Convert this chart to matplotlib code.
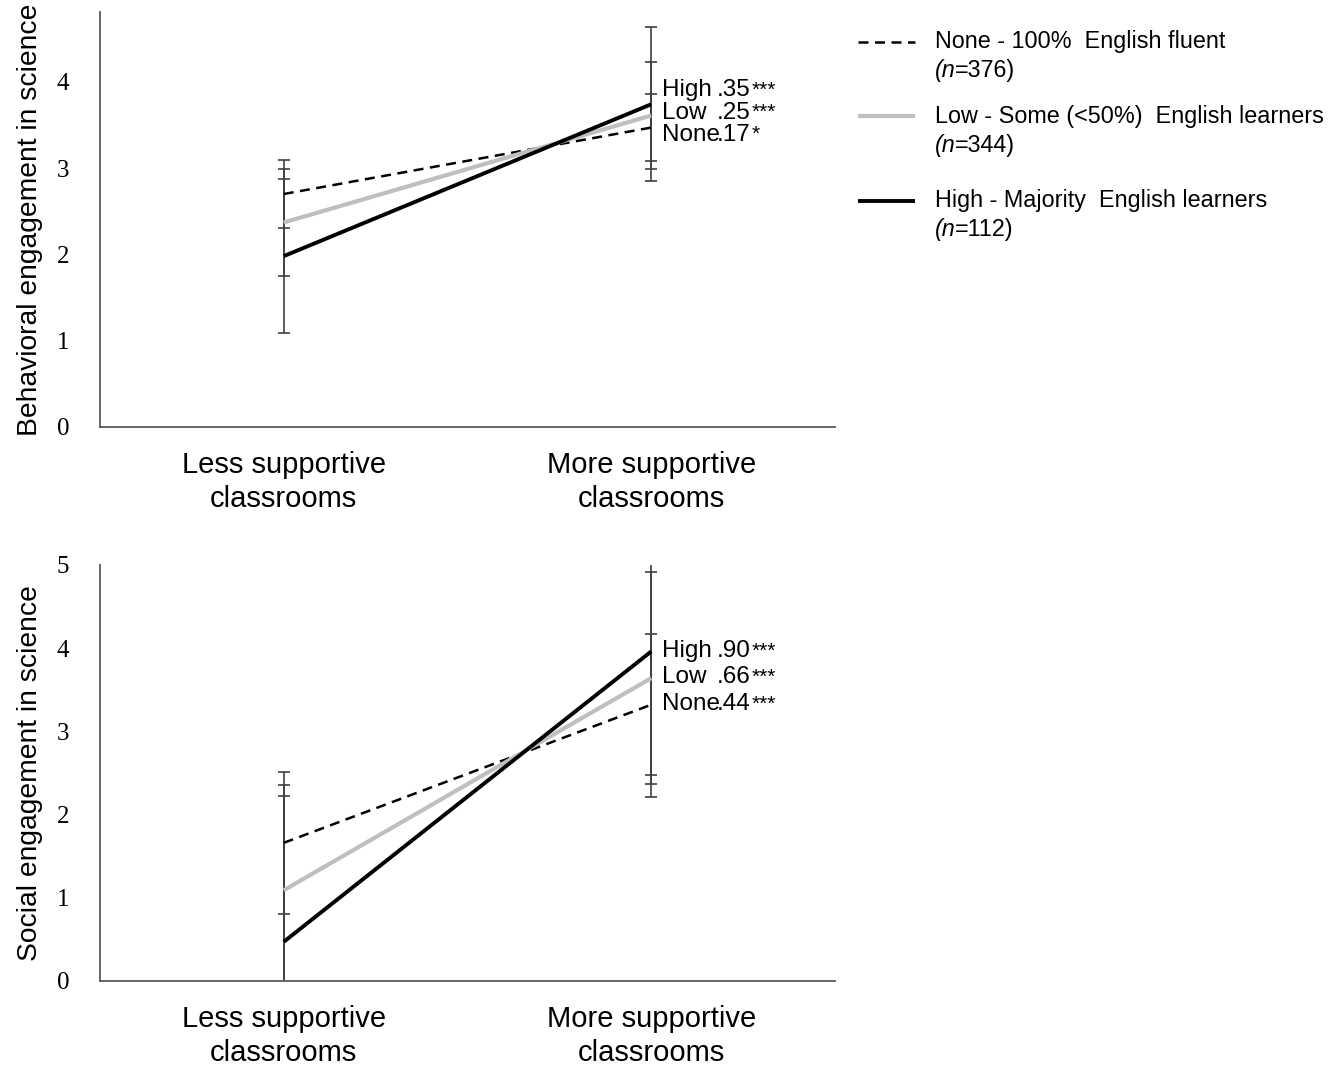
import matplotlib
matplotlib.use("Agg")
import matplotlib.pyplot as plt
from matplotlib.lines import Line2D
import numpy as np

# ---- data ----
conditions = ["Less supportive\nclassrooms", "More supportive\nclassrooms"]
groups = ["None", "Low", "High"]

behav_none = [2.70, 3.47]
behav_low = [2.37, 3.61]
behav_high = [1.98, 3.74]
behav_sd = [0.39, 0.62, 0.89]          # None, Low, High
behav_slopes = [".17*", ".25***", ".35***"]

social_none = [1.66, 3.32]
social_low = [1.09, 3.64]
social_high = [0.47, 3.96]
social_sd = [0.85, 1.27, 1.75]          # None, Low, High
social_slopes = [".44***", ".66***", ".90***"]

legend_labels = ["None - 100%  English fluent", "Low - Some (<50%)  English learners",
                 "High - Majority  English learners"]
legend_n = ["376", "344", "112"]

# ---- style ----
sans = "Liberation Sans"
serif = "Liberation Serif"
styles = {
    "None": dict(color="black", lw=1.8, ls=(0, (4, 2.6))),
    "Low": dict(color="#bfbfbf", lw=3.0, ls="-"),
    "High": dict(color="black", lw=2.8, ls="-"),
}
err_color = "#404040"

fig = plt.figure(figsize=(13.31, 10.68), dpi=100)
ax_top = fig.add_axes([0.0751, 0.6002, 0.5522, 0.3886])
ax_bot = fig.add_axes([0.0751, 0.0815, 0.5522, 0.3895])


def draw_panel(ax, series, sds, slopes, ylim, yticks, ylabel, label_y):
    x = np.arange(len(conditions))
    for g, vals, sd in zip(groups, series, sds):
        ax.errorbar(x, vals, yerr=sd, fmt="none", ecolor=err_color, elinewidth=1.2,
                    capsize=4.4, capthick=1.2, zorder=2)
    for g, vals in zip(groups, series):
        ax.plot(x, vals, solid_capstyle="butt", dash_capstyle="butt", zorder=3, **styles[g])
    ax.set_xlim(-0.5, 1.5)
    ax.set_ylim(*ylim)
    ax.set_yticks(yticks)
    ax.set_yticklabels([str(t) for t in yticks], fontfamily=serif, fontsize=18)
    ax.set_xticks(x)
    ax.set_xticklabels(conditions, fontfamily=sans, fontsize=21, linespacing=1.3)
    ax.tick_params(axis="both", length=0)
    ax.tick_params(axis="y", pad=22)
    ax.tick_params(axis="x", pad=17)
    for s in ("top", "right"):
        ax.spines[s].set_visible(False)
    for s in ("left", "bottom"):
        ax.spines[s].set_color("#595959")
        ax.spines[s].set_linewidth(1.3)
    ax.set_ylabel(ylabel, fontfamily=sans, fontsize=20.3, labelpad=10)
    # slope labels beside the supportive-classroom error bars, High first
    for i, (g, s) in enumerate(zip(groups[::-1], slopes[::-1])):
        ax.text(0.765, label_y[i], g, transform=ax.transAxes, fontfamily=sans,
                fontsize=17.5, va="center", ha="left")
        num, stars = s.rstrip("*"), s[len(s.rstrip("*")):]
        t = ax.text(0.8395, label_y[i], num, transform=ax.transAxes, fontfamily=sans,
                    fontsize=17.5, va="center", ha="left")
        ax.annotate(stars, xy=(1, 1), xycoords=t, xytext=(0.5, -1), textcoords="offset points",
                    fontfamily=sans, fontsize=15, va="top", ha="left")


draw_panel(ax_top, [behav_none, behav_low, behav_high], behav_sd, behav_slopes,
           (0, 4.81), [0, 1, 2, 3, 4], "Behavioral engagement in science",
           [0.812, 0.757, 0.704])
draw_panel(ax_bot, [social_none, social_low, social_high], social_sd, social_slopes,
           (0, 5), [0, 1, 2, 3, 4, 5], "Social engagement in science",
           [0.793, 0.730, 0.665])

# ---- legend ----
legend_rows = [0.961, 0.891, 0.812]   # first-line centres (figure fraction)
sub_gap = 29 / 1068
for g, lab, n, yf in zip(groups, legend_labels, legend_n, legend_rows):
    st = styles[g]
    fig.add_artist(Line2D([858 / 1331, 915 / 1331], [yf, yf], transform=fig.transFigure,
                          color=st["color"], lw=st["lw"], ls=st["ls"],
                          solid_capstyle="butt", dash_capstyle="butt"))
    fig.text(935 / 1331, yf, lab, fontfamily=sans, fontsize=16.8, va="center", ha="left")
    fig.text(935 / 1331, yf - sub_gap, "(n", fontfamily=sans, fontsize=16.8,
             style="italic", va="center", ha="left")
    fig.text(955 / 1331, yf - sub_gap, "=" + n + ")", fontfamily=sans, fontsize=16.8,
             va="center", ha="left")

fig.savefig("out.png", dpi=100, facecolor="white")
